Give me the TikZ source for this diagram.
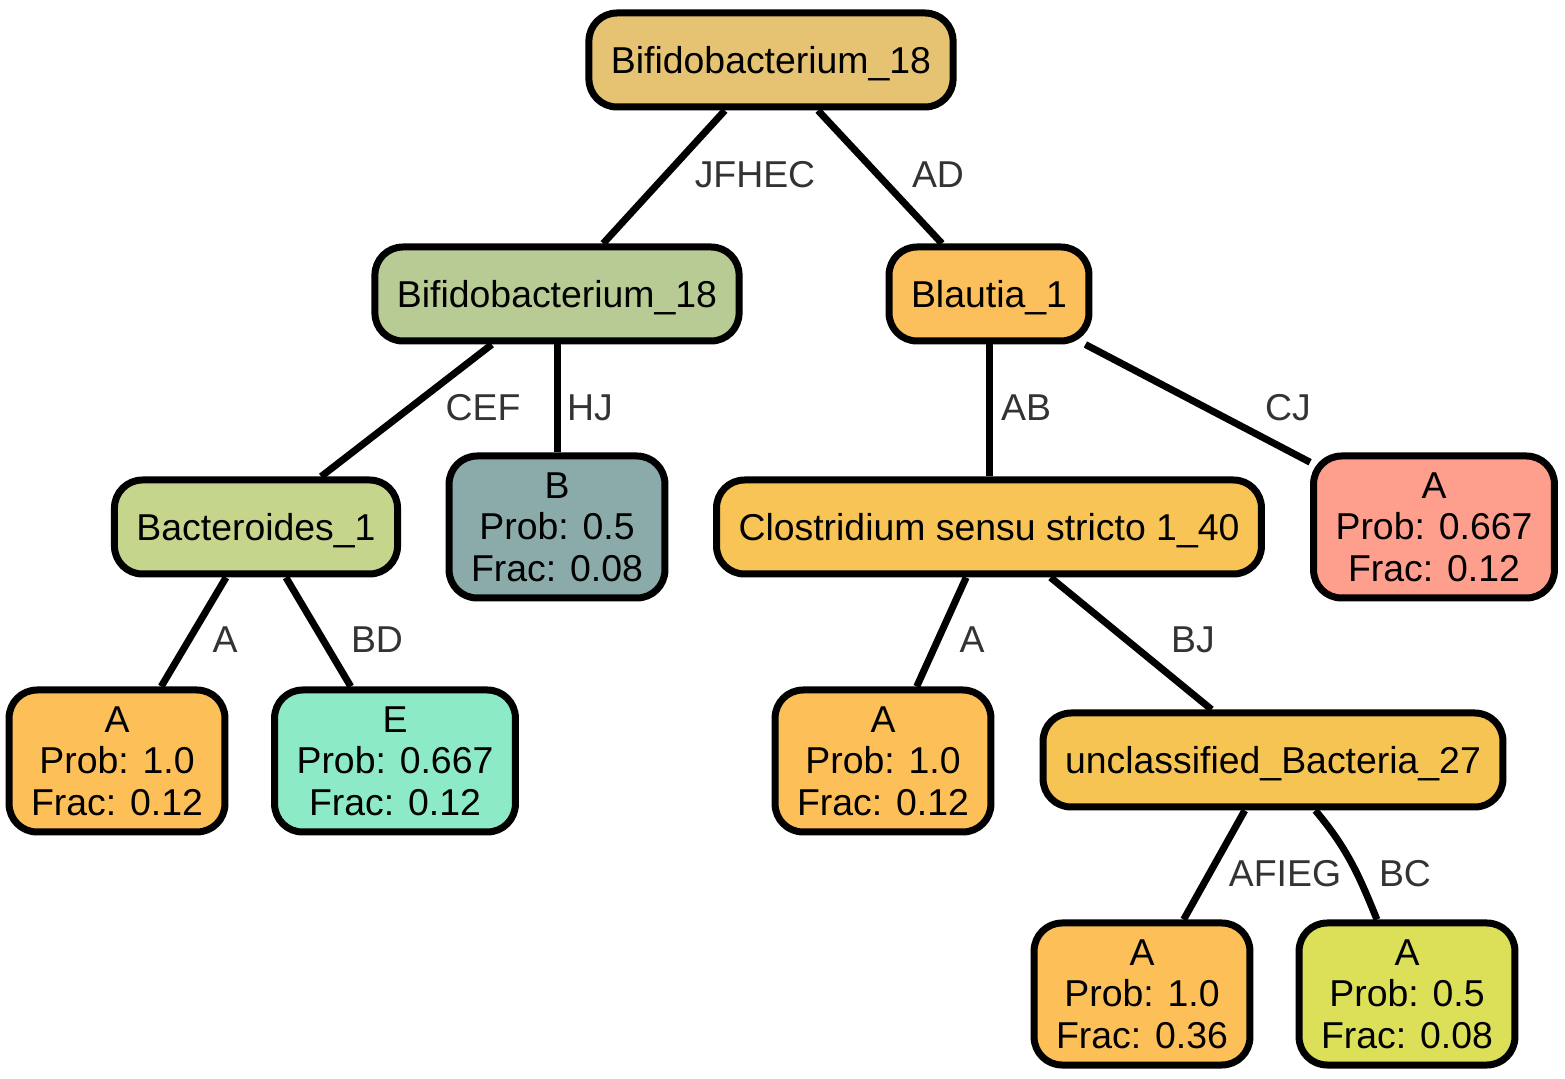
\documentclass[tikz,border=0pt]{standalone}
\usepackage{fontspec}
\setmainfont{Liberation Sans}
\definecolor{rootfill}{HTML}{E5C373}
\definecolor{bifofill}{HTML}{B8CB94}
\definecolor{blaufill}{HTML}{FBBF5C}
\definecolor{bactfill}{HTML}{C5D58C}
\definecolor{bleaf}{HTML}{8AABAA}
\definecolor{closfill}{HTML}{F8C456}
\definecolor{salmon}{HTML}{FE9E8C}
\definecolor{aleaf}{HTML}{FDBF57}
\definecolor{eleaf}{HTML}{8DEAC7}
\definecolor{uncfill}{HTML}{F6C453}
\definecolor{limeleaf}{HTML}{DBE058}
\definecolor{labelgray}{HTML}{333333}

\begin{document}
\begin{tikzpicture}[x=0.5pt,y=-0.5pt,
  every node/.style={font=\fontsize{18.7}{20.7}\selectfont},
  taxon/.style={draw,line width=3.5pt,rounded corners=14pt,inner xsep=11pt,
    minimum height=47pt,text height=13.4pt,text depth=0pt},
  leaf/.style={draw,line width=3.5pt,rounded corners=14pt,inner xsep=11pt,
    inner ysep=2pt,minimum height=71pt,align=center},
  elabel/.style={text=labelgray,inner sep=0pt},
  branch/.style={line width=3.5pt}]
\useasboundingbox (0,0) rectangle (1565,1079);

% inner nodes
\node[taxon,fill=rootfill] (root) at (771,60) {Bifidobacterium\_18};
\node[taxon,fill=bifofill] (bifo) at (557,294) {Bifidobacterium\_18};
\node[taxon,fill=blaufill] (blau) at (989,294) {Blautia\_1};
\node[taxon,fill=bactfill] (bact) at (256,527) {Bacteroides\_1};
\node[taxon,fill=closfill] (clos) at (989,527) {Clostridium sensu stricto 1\_40};
\node[taxon,fill=uncfill] (unc) at (1273,760) {unclassified\_Bacteria\_27};

% leaves
\node[leaf,fill=bleaf] (leafB) at (557,527) {B\\Prob: 0.5\\Frac: 0.08};
\node[leaf,fill=salmon] (leafCJ) at (1434,527) {A\\Prob: 0.667\\Frac: 0.12};
\node[leaf,fill=aleaf] (leafA1) at (117,761) {A\\Prob: 1.0\\Frac: 0.12};
\node[leaf,fill=eleaf] (leafE) at (395,761) {E\\Prob: 0.667\\Frac: 0.12};
\node[leaf,fill=aleaf] (leafA2) at (883,761) {A\\Prob: 1.0\\Frac: 0.12};
\node[leaf,fill=aleaf] (leafA3) at (1142,994) {A\\Prob: 1.0\\Frac: 0.36};
\node[leaf,fill=limeleaf] (leafBC) at (1407,994) {A\\Prob: 0.5\\Frac: 0.08};

% branches
\draw[branch] (root) -- (bifo);
\draw[branch] (root) -- (blau);
\draw[branch] (bifo) -- (bact);
\draw[branch] (bifo) -- (leafB);
\draw[branch] (blau) -- (clos);
\draw[branch] (blau) -- (leafCJ);
\draw[branch] (bact) -- (leafA1);
\draw[branch] (bact) -- (leafE);
\draw[branch] (clos) -- (leafA2);
\draw[branch] (clos) -- (unc);
\draw[branch] (unc) -- (leafA3);
\draw[branch] (unc) to[out=-50,in=112] (leafBC);

% branch labels
\node[elabel] (lJFHEC) at (755,175) {JFHEC};
\node[elabel] (lAD) at (938,175) {AD};
\node[elabel] (lCEF) at (483,408) {CEF};
\node[elabel] (lHJ) at (590,408) {HJ};
\node[elabel] (lAB) at (1026,408) {AB};
\node[elabel] (lCJ) at (1288,408) {CJ};
\node[elabel] (lA1) at (225,640) {A};
\node[elabel] (lBD) at (377,640) {BD};
\node[elabel] (lA2) at (972,640) {A};
\node[elabel] (lBJ) at (1193,640) {BJ};
\node[elabel] (lAFIEG) at (1285,874) {AFIEG};
\node[elabel] (lBC) at (1405,874) {BC};
\end{tikzpicture}
\end{document}
